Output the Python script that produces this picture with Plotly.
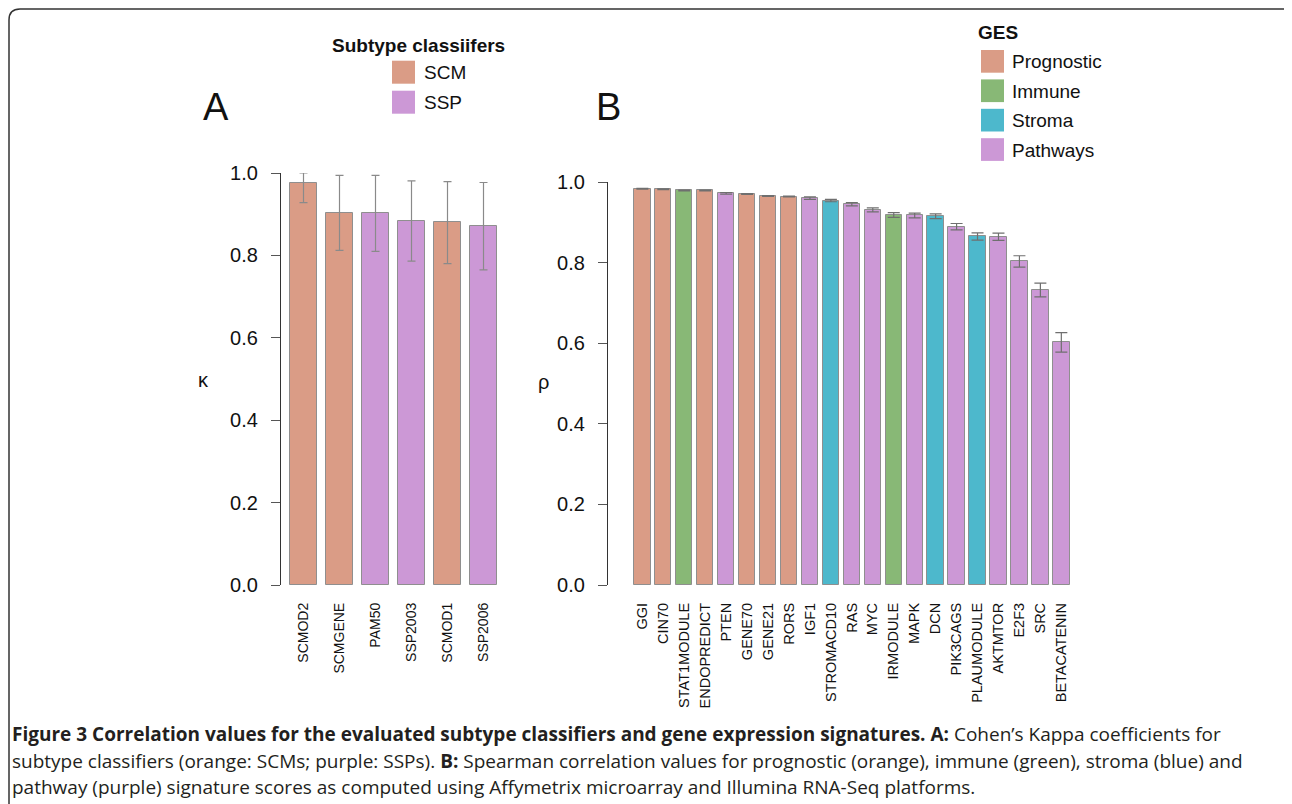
import plotly.graph_objects as go

W, H = 1292, 804
OFF = 8  # page body margin in the browser

# ---------------- data ----------------
a_labels = ["SCMOD2", "SCMGENE", "PAM50", "SSP2003", "SCMOD1", "SSP2006"]
a_group = ["SCM", "SCM", "SSP", "SSP", "SCM", "SSP"]
a_kappa = [0.976, 0.904, 0.902, 0.884, 0.880, 0.871]
a_upper = [1.000, 0.994, 0.994, 0.981, 0.979, 0.977]
a_lower = [0.928, 0.812, 0.810, 0.786, 0.780, 0.765]

b_labels = ["GGI", "CIN70", "STAT1MODULE", "ENDOPREDICT", "PTEN", "GENE70", "GENE21",
            "RORS", "IGF1", "STROMACD10", "RAS", "MYC", "IRMODULE", "MAPK", "DCN",
            "PIK3CAGS", "PLAUMODULE", "AKTMTOR", "E2F3", "SRC", "BETACATENIN"]
b_group = ["Prognostic", "Prognostic", "Immune", "Prognostic", "Pathways", "Prognostic",
           "Prognostic", "Prognostic", "Pathways", "Stroma", "Pathways", "Pathways",
           "Immune", "Pathways", "Stroma", "Pathways", "Stroma", "Pathways", "Pathways",
           "Pathways", "Pathways"]
b_rho = [0.983, 0.982, 0.979, 0.979, 0.972, 0.970, 0.965, 0.964, 0.960, 0.954, 0.945,
         0.931, 0.918, 0.917, 0.915, 0.889, 0.865, 0.864, 0.803, 0.732, 0.602]
b_err = [0.001, 0.001, 0.001, 0.001, 0.002, 0.001, 0.001, 0.001, 0.003, 0.003, 0.004,
         0.005, 0.006, 0.006, 0.006, 0.008, 0.009, 0.009, 0.014, 0.017, 0.024]

a_legend = ["SCM", "SSP"]
b_legend = ["Prognostic", "Immune", "Stroma", "Pathways"]

# ---------------- styles ----------------
COL = {"SCM": "#DA9C86", "SSP": "#CC98D6", "Prognostic": "#DA9C86", "Immune": "#88B876",
       "Stroma": "#4DB8CC", "Pathways": "#CC98D6"}
FONT = "Liberation Sans, Arial, sans-serif"


def px(x):
    return (x - OFF) / W


def py(y):
    return 1 - (y - OFF) / H


fig = go.Figure()

fig.add_trace(go.Bar(
    x=a_labels, y=a_kappa, xaxis="x", yaxis="y", width=0.75,
    marker=dict(color=[COL[g] for g in a_group], line=dict(color="#8f8f8f", width=1)),
    error_y=dict(type="data", symmetric=False,
                 array=[u - v for u, v in zip(a_upper, a_kappa)],
                 arrayminus=[v - l for v, l in zip(a_kappa, a_lower)],
                 color="#8a8a8a", thickness=1.2, width=4),
    cliponaxis=False, showlegend=False, hoverinfo="x+y"))

fig.add_trace(go.Bar(
    x=b_labels, y=b_rho, xaxis="x2", yaxis="y2", width=0.78,
    marker=dict(color=[COL[g] for g in b_group], line=dict(color="#8f8f8f", width=1)),
    error_y=dict(type="data", array=b_err, color="#6f6f6f", thickness=1.2, width=6),
    cliponaxis=False, showlegend=False, hoverinfo="x+y"))

yax_common = dict(range=[0, 1], tickvals=[0, 0.2, 0.4, 0.6, 0.8, 1.0],
                  ticktext=["0.0", "0.2", "0.4", "0.6", "0.8", "1.0"],
                  showline=True, linecolor="#333333", linewidth=1.2,
                  ticks="outside", ticklen=9, tickcolor="#555555", tickwidth=1.2,
                  showgrid=False, zeroline=False, ticklabelstandoff=9, automargin=False,
                  tickfont=dict(family=FONT, size=20, color="#111111"))
xax_common = dict(type="category", showline=False, ticks="", showgrid=False, zeroline=False,
                  tickangle=-90, ticklabelstandoff=14, automargin=False)

fig.update_layout(
    width=W, height=H, margin=dict(l=0, r=0, t=0, b=0, pad=0, autoexpand=False),
    paper_bgcolor="white", plot_bgcolor="white",
    bargap=0,
    xaxis=dict(domain=[px(281), px(501.5)], range=[-0.625, 5.5], anchor="y",
               tickfont=dict(family=FONT, size=14, color="#111111"), **xax_common),
    yaxis=dict(domain=[py(585), py(173)], anchor="x", **yax_common),
    xaxis2=dict(domain=[px(608), px(1071.8)], range=[-1.64, 20.5], anchor="y2",
                tickfont=dict(family=FONT, size=14.5, color="#111111"), **xax_common),
    yaxis2=dict(domain=[py(585), py(182)], anchor="x2", **yax_common),
)

ann = []
shapes = []


def text(x, y, s, size, xanchor="center", family=FONT, color="#111111"):
    ann.append(dict(x=px(x), y=py(y), text=s, showarrow=False, xref="paper", yref="paper",
                    xanchor=xanchor, yanchor="middle",
                    font=dict(family=family, size=size, color=color)))


# axis titles
text(203, 380, "κ", 20)
text(543, 382, "ρ", 20)

# panel letters
text(216, 107, "A", 38)
text(608, 107, "B", 38)

# legend A
text(418, 45, "<b>Subtype classiifers</b>", 19)
for i, name in enumerate(a_legend):
    y0 = 60.7 + 30 * i
    shapes.append(dict(type="rect", xref="paper", yref="paper", x0=px(392), x1=px(415),
                       y0=py(y0), y1=py(y0 + 23), fillcolor=COL[name], line=dict(width=0)))
    text(422, y0 + 12, name, 19, xanchor="left")

# legend B
text(976, 33, "<b>GES</b>", 19, xanchor="left")
for i, name in enumerate(b_legend):
    y0 = 50 + 29.4 * i
    shapes.append(dict(type="rect", xref="paper", yref="paper", x0=px(981), x1=px(1004),
                       y0=py(y0), y1=py(y0 + 22.7), fillcolor=COL[name], line=dict(width=0)))
    text(1010, y0 + 12, name, 19, xanchor="left")

# frame
path = (f"M {px(9)} {py(812)} L {px(9)} {py(20)} Q {px(9)} {py(9)} {px(20)} {py(9)} "
        f"L {px(1284)} {py(9)} Q {px(1290)} {py(9)} {px(1294)} {py(14)}")
shapes.append(dict(type="path", xref="paper", yref="paper", path=path,
                   line=dict(color="#333333", width=1.5)))

# caption
CAP = "Open Sans, sans-serif"
cap_lines = [
    "<b>Figure 3 Correlation values for the evaluated subtype classifiers and gene expression signatures. A:</b> Cohen’s Kappa coefficients for",
    "subtype classifiers (orange: SCMs; purple: SSPs). <b>B:</b> Spearman correlation values for prognostic (orange), immune (green), stroma (blue) and",
    "pathway (purple) signature scores as computed using Affymetrix microarray and Illumina RNA-Seq platforms.",
]
for i, line in enumerate(cap_lines):
    text(10, 734 + 26.5 * i, line, 19, xanchor="left", family=CAP, color="#231f20")

fig.update_layout(annotations=ann, shapes=shapes)
fig.write_html("out.html")
